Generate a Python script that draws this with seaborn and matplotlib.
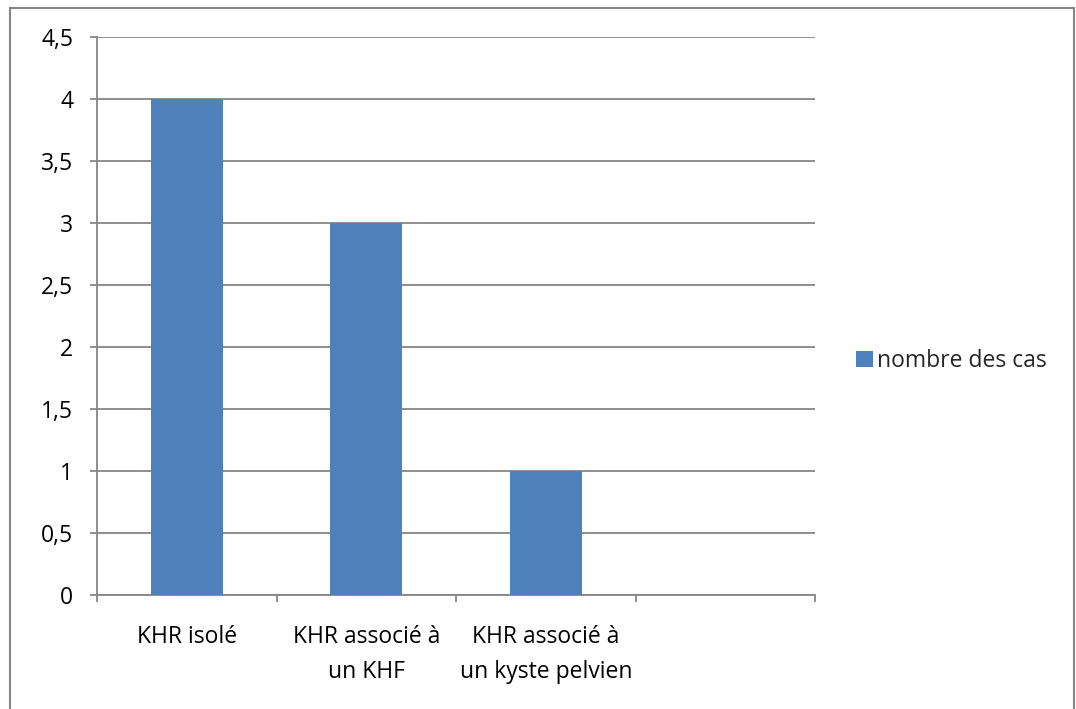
import matplotlib
matplotlib.use("Agg")
import matplotlib.pyplot as plt
from matplotlib.patches import Rectangle
import seaborn as sns
import pandas as pd
import numpy as np

categories = ["KHR isolé", "KHR associé à\nun KHF", "KHR associé à\nun kyste pelvien"]
values = [4, 3, 1]
series_name = "nombre des cas"
y_ticks = [0, 0.5, 1, 1.5, 2, 2.5, 3, 3.5, 4, 4.5]
y_tick_labels = ["0", "0,5", "1", "1,5", "2", "2,5", "3", "3,5", "4", "4,5"]

sns.set_theme(style="white")
plt.rcParams["font.family"] = ["Open Sans", "DejaVu Sans"]

GRAY = "#868686"
BAR = "#4F81BD"
FS = 16.5

df = pd.DataFrame({"cat": categories, "val": values, "serie": series_name})

fig = plt.figure(figsize=(10.76, 7.09), dpi=100)
ax = fig.add_axes([97 / 1076, 1 - 595 / 709, (815 - 97) / 1076, (595 - 37) / 709])

sns.barplot(data=df, x="cat", y="val", hue="serie", palette=[BAR], width=0.4,
            saturation=1, linewidth=0, ax=ax, legend=True, zorder=3)

ax.set_xlim(-0.5, 3.5)
ax.set_ylim(0, 4.5)
ax.set_xlabel("")
ax.set_ylabel("")

# horizontal gridlines
ax.set_yticks(y_ticks)
ax.set_yticklabels(y_tick_labels, fontsize=FS, color="black")
ax.yaxis.grid(True, color=GRAY, linewidth=1.3, zorder=0)
ax.xaxis.grid(False)
ax.tick_params(axis="y", length=5, width=1.3, color=GRAY, pad=12, left=True)

# category labels centred in slots, tick marks at slot boundaries
ax.set_xticks(range(len(categories)))
ax.set_xticklabels(categories, fontsize=FS, color="black", linespacing=1.62)
ax.tick_params(axis="x", which="major", length=0, pad=21.5)
ax.set_xticks(np.arange(-0.5, 3.6, 1.0), minor=True)
ax.tick_params(axis="x", which="minor", length=5, width=1.3, color=GRAY, bottom=True)

for side in ["top", "right"]:
    ax.spines[side].set_visible(False)
for side in ["left", "bottom"]:
    ax.spines[side].set_color(GRAY)
    ax.spines[side].set_linewidth(1.3)

leg = ax.legend(loc="center left", bbox_to_anchor=(1.045, 0.42), frameon=False,
                fontsize=FS, handlelength=0.7, handleheight=0.7, handletextpad=0.2,
                borderaxespad=0)

# outer chart-area border
fig.patches.append(Rectangle((10 / 1076, -0.05), 1064 / 1076, 1.05 - 8 / 709,
                             transform=fig.transFigure, fill=False,
                             edgecolor=GRAY, linewidth=1.5))

fig.savefig("out.png", dpi=100)
